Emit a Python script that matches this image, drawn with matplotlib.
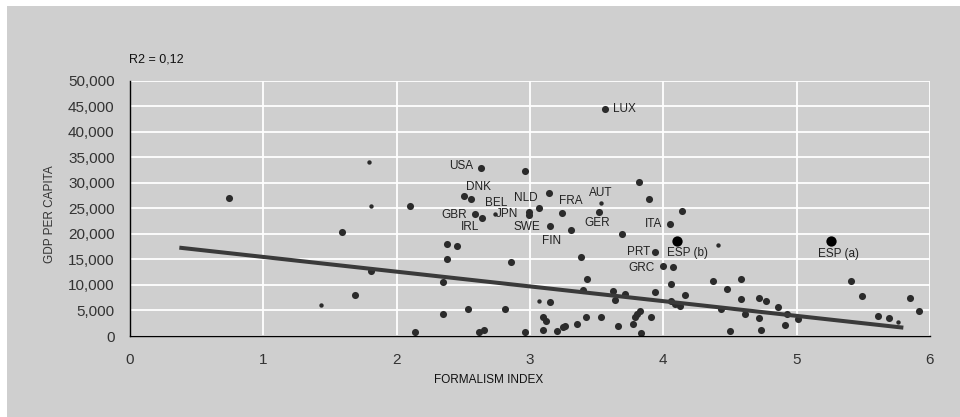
import matplotlib.pyplot as plt
from matplotlib.patches import Rectangle
from matplotlib.ticker import FuncFormatter

# named countries: code, formalism index, gdp per capita, marker kind
named_codes = ['LUX', 'USA', 'DNK', 'BEL', 'JPN', 'NLD', 'SWE', 'FIN', 'FRA', 'AUT',
               'GER', 'GBR', 'IRL', 'ITA', 'PRT', 'ESP (b)', 'GRC', 'ESP (a)']
named_x = [3.565, 2.63, 2.555, 2.74, 2.99, 3.07, 3.15, 3.31, 3.24, 3.53,
           3.52, 2.585, 2.64, 4.05, 3.94, 4.105, 3.995, 5.2575]
named_y = [44400, 33000, 26800, 23900, 24200, 25000, 21500, 20800, 24100, 26000,
           24300, 23900, 23200, 22000, 16500, 18700, 13800, 18700]
named_kind = ['L', 'L', 'L', 's', 'L', 'L', 'L', 'L', 'L', 's',
              'L', 'L', 'L', 'L', 'L', 'E', 'L', 'E']

# other countries
other_x = [0.74, 1.43, 1.59, 1.69, 1.79, 1.81, 1.81, 2.10, 2.14, 2.35,
           2.35, 2.375, 2.375, 2.45, 2.505, 2.535, 2.62, 2.655, 2.81, 2.855,
           2.96, 2.96, 2.99, 3.07, 3.14, 3.15, 3.10, 3.12, 3.095, 3.20,
           3.245, 3.26, 3.35, 3.38, 3.40, 3.42, 3.43, 3.53, 3.62, 3.64,
           3.66, 3.69, 3.71, 3.77, 3.79, 3.80, 3.825, 3.82, 3.83, 3.89,
           3.91, 3.94, 4.055, 4.07, 4.06, 4.09, 4.125, 4.14, 4.16, 4.37,
           4.41, 4.43, 4.48, 4.50, 4.58, 4.58, 4.61, 4.72, 4.77, 4.72,
           4.73, 4.86, 4.93, 4.91, 5.01, 5.41, 5.49, 5.61, 5.69, 5.76,
           5.85, 5.92]
other_y = [27000, 6100, 20400, 8000, 34000, 25500, 12800, 25500, 700, 10600,
           4400, 18000, 15100, 17600, 27400, 5350, 850, 1100, 5350, 14400,
           32300, 700, 23600, 6850, 28100, 6600, 3800, 2850, 1150, 900,
           1700, 2050, 2300, 15400, 9100, 3750, 11200, 3700, 8750, 7050,
           1950, 19900, 8300, 2300, 3700, 4300, 4900, 30200, 650, 26800,
           3700, 8550, 10100, 13450, 6900, 6300, 5950, 24500, 8100, 10800,
           17900, 5300, 9200, 1000, 11200, 7250, 4400, 7500, 6900, 3600,
           1250, 5600, 4250, 2100, 3400, 10800, 7800, 4000, 3600, 2750,
           7500, 4900]
other_kind = ['L', 's', 'L', 'L', 's', 's', 'L', 'L', 'L', 'L',
              'L', 'L', 'L', 'L', 'L', 'L', 'L', 'L', 'L', 'L',
              'L', 'L', 'L', 's', 'L', 'L', 'L', 'L', 'L', 'L',
              'L', 'L', 'L', 'L', 'L', 'L', 'L', 'L', 'L', 'L',
              'L', 'L', 'L', 'L', 'L', 'L', 'L', 'L', 'L', 'L',
              'L', 'L', 'L', 'L', 'L', 'L', 'L', 'L', 'L', 'L',
              's', 'L', 'L', 'L', 'L', 'L', 'L', 'L', 'L', 'L',
              'L', 'L', 'L', 'L', 'L', 'L', 'L', 'L', 'L', 's',
              'L', 'L']

# linear trend
trend_intercept = 18370
trend_slope = -2886
trend_x = [0.37, 5.80]

x_ticks = [0, 1, 2, 3, 4, 5, 6]
y_ticks = list(range(0, 50001, 5000))

# label offsets in pixels relative to the dot, plus alignment
label_style = {
    'LUX': (7.5, 0, 'left'), 'USA': (-7.5, 1.5, 'right'), 'DNK': (8, 12, 'center'),
    'BEL': (1, 11, 'center'), 'JPN': (-10, -2, 'right'), 'NLD': (-1.5, 10, 'right'),
    'SWE': (-10, -1, 'right'), 'FIN': (-10, -11, 'right'), 'FRA': (-2.5, 11.5, 'left'),
    'AUT': (0, 10.5, 'center'), 'GER': (-2, -11.5, 'center'), 'GBR': (-7.5, -1.5, 'right'),
    'IRL': (-2.5, -9, 'right'), 'ITA': (-7.5, 0, 'right'), 'PRT': (-5, 0, 'right'),
    'ESP (b)': (-10.5, -12, 'left'), 'GRC': (-8, -2.5, 'right'), 'ESP (a)': (7.5, -13.5, 'center'),
}

plt.rcParams['font.family'] = ['Liberation Sans', 'DejaVu Sans']

panel = '#cfcfcf'
dot = '#2b2b2b'
sizes = {'L': 26, 's': 10, 'E': 55}
colors = {'L': dot, 's': dot, 'E': '#000000'}

fig = plt.figure(figsize=(9.6, 4.17), dpi=100)
fig.patches.append(Rectangle((7 / 960, 0), 1, 411 / 417, transform=fig.transFigure,
                             facecolor=panel, edgecolor='none', zorder=-1))
ax = fig.add_axes([130 / 960, 81 / 417, 800 / 960, 255.3 / 417])
ax.set_facecolor(panel)

for kind in ['L', 's', 'E']:
    xs = [x for x, k in zip(other_x, other_kind) if k == kind] + \
         [x for x, k in zip(named_x, named_kind) if k == kind]
    ys = [y for y, k in zip(other_y, other_kind) if k == kind] + \
         [y for y, k in zip(named_y, named_kind) if k == kind]
    ax.scatter(xs, ys, s=sizes[kind], color=colors[kind], linewidths=0, zorder=3)

ax.plot(trend_x, [trend_intercept + trend_slope * x for x in trend_x],
        color='#3a3a3a', lw=2.9, solid_capstyle='butt', zorder=4)

for code, x, y in zip(named_codes, named_x, named_y):
    dx, dy, ha = label_style[code]
    ax.annotate(code, (x, y), xytext=(dx, dy), textcoords='offset pixels',
                ha=ha, va='center', fontsize=8.5, color='#222222', zorder=5)

ax.set_xlim(0, 6)
ax.set_ylim(0, 50000)
ax.set_xticks(x_ticks)
ax.set_yticks(y_ticks)
ax.yaxis.set_major_formatter(FuncFormatter(lambda v, p: f'{int(v):,}'))
ax.tick_params(length=0, labelsize=11, labelcolor='#333333')
ax.tick_params(axis='x', pad=12)
ax.tick_params(axis='y', pad=11)
ax.grid(True, color='white', lw=1.3, zorder=0)
ax.set_axisbelow(True)
for side in ['top', 'right']:
    ax.spines[side].set_visible(False)
for side in ['left', 'bottom']:
    ax.spines[side].set_color('black')
    ax.spines[side].set_linewidth(1)
    ax.spines[side].set_zorder(6)

fig.text(489 / 960, 1 - 380 / 417, 'FORMALISM INDEX', ha='center', va='center',
         fontsize=8.5, color='#111111')
fig.text(50 / 960, 1 - 214 / 417, 'GDP PER CAPITA', ha='center', va='center',
         rotation=90, fontsize=8.5, color='#333333')
fig.text(129 / 960, 1 - 60 / 417, 'R2 = 0,12', ha='left', va='center',
         fontsize=9, color='#111111')

fig.savefig('out.png', dpi=100)
